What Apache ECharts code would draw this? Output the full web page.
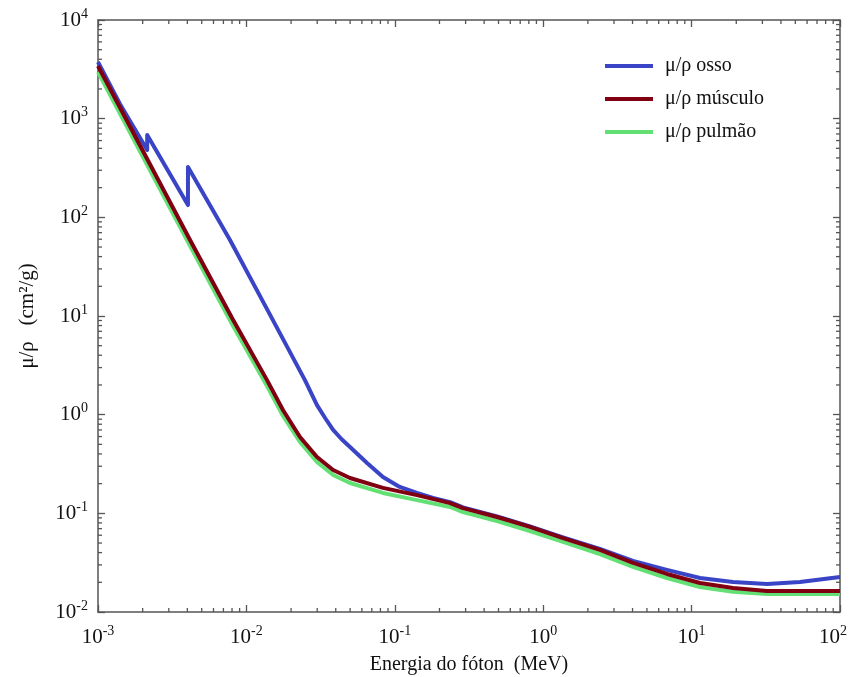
<!DOCTYPE html>
<html>
<head>
<meta charset="utf-8">
<script src="https://cdn.jsdelivr.net/npm/echarts@6/dist/echarts.min.js"></script>
<style>html,body{margin:0;padding:0;background:#fff}#c{width:850px;height:677px}</style>
</head>
<body>
<div id="c"></div>
<script>
// ---- data ----
const boneE = [1e-3, 1.406e-3, 2.145e-3, 2.146e-3, 4.038e-3, 4.039e-3, 7.75e-3, 0.014, 0.0248, 0.0299, 0.0340, 0.0384, 0.0440, 0.0499, 0.065, 0.0832, 0.108, 0.141, 0.181, 0.236, 0.288, 0.489, 0.815, 1.36, 2.41, 4.03, 6.82, 11.4, 19.0, 32.2, 53.7, 100];
const boneMu = [3750, 1410, 481, 684, 133, 324, 58.9, 11.2, 2.24, 1.25, 0.92, 0.700, 0.56, 0.470, 0.324, 0.233, 0.185, 0.161, 0.143, 0.130, 0.115, 0.093, 0.0735, 0.057, 0.0436, 0.0329, 0.0267, 0.0221, 0.0201, 0.0192, 0.0201, 0.0226];
const softE = [1e-3, 4.17e-3, 8e-3, 0.01377, 0.01767, 0.02296, 0.0299, 0.0384, 0.0499, 0.0832, 0.141, 0.236, 0.288, 0.489, 0.815, 1.36, 2.41, 4.03, 6.82, 11.4, 19.0, 32.2, 53.7, 100];
const muscleMu = [3420, 59, 9.55, 2.24, 1.11, 0.594, 0.372, 0.275, 0.228, 0.181, 0.153, 0.127, 0.113, 0.0918, 0.0728, 0.0562, 0.0426, 0.0314, 0.0243, 0.0197, 0.0175, 0.0163, 0.0163, 0.0163];
const lungMu = [2970, 51.3, 8.3, 1.95, 0.97, 0.528, 0.331, 0.245, 0.203, 0.161, 0.136, 0.116, 0.103, 0.0836, 0.0662, 0.0513, 0.0387, 0.0286, 0.0221, 0.0179, 0.0160, 0.0152, 0.0152, 0.0152];
const seriesNames = ['μ/ρ osso', 'μ/ρ músculo', 'μ/ρ pulmão'];
const xTickExps = [-3, -2, -1, 0, 1, 2];
const yTickExps = [-2, -1, 0, 1, 2, 3, 4];
const xTitle = 'Energia do fóton  (MeV)';
const yTitle = 'μ/ρ   (cm²/g)';

const xMin = Math.pow(10, xTickExps[0]), xMax = Math.pow(10, xTickExps[xTickExps.length - 1]);
const yMin = Math.pow(10, yTickExps[0]), yMax = Math.pow(10, yTickExps[yTickExps.length - 1]);

function minorVals(exps) {
  const out = [];
  for (let i = 0; i < exps.length - 1; i++) {
    for (let m = 2; m <= 9; m++) out.push(m * Math.pow(10, exps[i]));
  }
  return out;
}
const xMinor = minorVals(xTickExps);
const yMinor = minorVals(yTickExps);

const FONT = 'Liberation Serif';
const fmtY = v => '{b|10}{s|' + Math.round(Math.log10(v)) + '}';
const fmtX = v => {
  const e = Math.round(Math.log10(v));
  return e === xTickExps[xTickExps.length - 1] ? '{b|10}{sr|' + e + '}' : '{b|10}{s|' + e + '}';
};
const rich = {
  b: { fontFamily: FONT, fontSize: 21, color: '#111' },
  s: { fontFamily: FONT, fontSize: 14, color: '#111', padding: [0, 0, 12, 0] },
  sr: { fontFamily: FONT, fontSize: 14, color: '#111', padding: [0, 14, 12, 0] }
};
const axisLineStyle = { color: '#555', width: 1.5 };

const zip = (a, b) => a.map((v, i) => [v, b[i]]);

const chart = echarts.init(document.getElementById('c'), null, { renderer: 'canvas' });

function tickSeries(vals, isX) {
  return {
    type: 'custom',
    silent: true,
    xAxisIndex: 0, yAxisIndex: 0,
    data: vals.map(v => isX ? [v, yMin] : [xMin, v]),
    clip: false,
    z: 1,
    renderItem: function (params, api) {
      const v = api.value(isX ? 0 : 1);
      const len = 4;
      if (isX) {
        const p0 = api.coord([v, yMin]);
        const p1 = api.coord([v, yMax]);
        return { type: 'group', children: [
          { type: 'line', shape: { x1: p0[0], y1: p0[1], x2: p0[0], y2: p0[1] - len }, style: { stroke: '#555', lineWidth: 1.3 } },
          { type: 'line', shape: { x1: p1[0], y1: p1[1], x2: p1[0], y2: p1[1] + len }, style: { stroke: '#555', lineWidth: 1.3 } }
        ]};
      } else {
        const p0 = api.coord([xMin, v]);
        const p1 = api.coord([xMax, v]);
        return { type: 'group', children: [
          { type: 'line', shape: { x1: p0[0], y1: p0[1], x2: p0[0] + len, y2: p0[1] }, style: { stroke: '#555', lineWidth: 1.3 } },
          { type: 'line', shape: { x1: p1[0], y1: p1[1], x2: p1[0] - len, y2: p1[1] }, style: { stroke: '#555', lineWidth: 1.3 } }
        ]};
      }
    }
  };
}

const lineCommon = { type: 'line', showSymbol: false, symbol: 'none', smooth: false };

const option = {
  backgroundColor: '#fff',
  animation: false,
  grid: { left: 98, right: 10, top: 20, bottom: 65, containLabel: false, outerBoundsMode: 'none' },
  legend: {
    data: seriesNames,
    orient: 'vertical',
    left: 600, top: 51,
    itemWidth: 48, itemHeight: 4,
    itemGap: 13,
    icon: 'rect',
    textStyle: { fontFamily: FONT, fontSize: 20, color: '#111', padding: [0, 0, 0, 7] }
  },
  xAxis: [
    {
      type: 'log', logBase: 10, min: xMin, max: xMax, interval: 1,
      name: xTitle, nameLocation: 'middle', nameGap: 43,
      nameTextStyle: { fontFamily: FONT, fontSize: 20, color: '#111' },
      axisLine: { lineStyle: axisLineStyle },
      axisTick: { inside: true, length: 7, lineStyle: { color: '#555', width: 1.3 } },
      axisLabel: { formatter: fmtX, rich: rich, margin: 12 },
      splitLine: { show: false }, minorTick: { show: false }
    },
    {
      type: 'log', logBase: 10, min: xMin, max: xMax, interval: 1, position: 'top',
      axisLine: { lineStyle: axisLineStyle },
      axisTick: { inside: true, length: 7, lineStyle: { color: '#555', width: 1.3 } },
      axisLabel: { show: false }, splitLine: { show: false }
    }
  ],
  yAxis: [
    {
      type: 'log', logBase: 10, min: yMin, max: yMax, interval: 1,
      name: yTitle, nameLocation: 'middle', nameGap: 60, nameRotate: 90,
      nameTextStyle: { fontFamily: FONT, fontSize: 21, color: '#111' },
      axisLine: { lineStyle: axisLineStyle },
      axisTick: { inside: true, length: 7, lineStyle: { color: '#555', width: 1.3 } },
      axisLabel: { formatter: fmtY, rich: rich, margin: 10 },
      splitLine: { show: false }
    },
    {
      type: 'log', logBase: 10, min: yMin, max: yMax, interval: 1, position: 'right',
      axisLine: { lineStyle: axisLineStyle },
      axisTick: { inside: true, length: 7, lineStyle: { color: '#555', width: 1.3 } },
      axisLabel: { show: false }, splitLine: { show: false }
    }
  ],
  series: [
    Object.assign({}, lineCommon, {
      name: seriesNames[0], data: zip(boneE, boneMu),
      lineStyle: { color: '#3a44c6', width: 4, join: 'round' }, itemStyle: { color: '#3a44c6' }, z: 3
    }),
    Object.assign({}, lineCommon, {
      name: seriesNames[2], data: zip(softE, lungMu),
      lineStyle: { color: '#62e074', width: 4, join: 'round' }, itemStyle: { color: '#62e074' }, z: 4
    }),
    Object.assign({}, lineCommon, {
      name: seriesNames[1], data: zip(softE, muscleMu),
      lineStyle: { color: '#800012', width: 4, join: 'round' }, itemStyle: { color: '#800012' }, z: 5
    }),
    tickSeries(xMinor, true),
    tickSeries(yMinor, false)
  ]
};
chart.setOption(option);
</script>
</body>
</html>
